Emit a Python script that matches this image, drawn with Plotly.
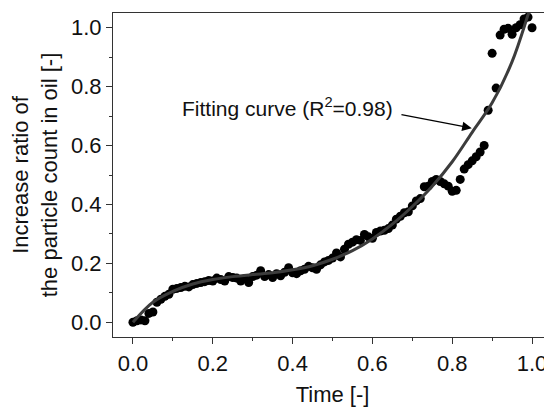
import plotly.graph_objects as go

time_x = [0.00, 0.01, 0.02, 0.03, 0.04, 0.05, 0.06, 0.07, 0.08, 0.09,
          0.10, 0.11, 0.12, 0.13, 0.14, 0.15, 0.16, 0.17, 0.18, 0.19,
          0.20, 0.21, 0.22, 0.23, 0.24, 0.25, 0.26, 0.27, 0.28, 0.29,
          0.30, 0.31, 0.32, 0.33, 0.34, 0.35, 0.36, 0.37, 0.38, 0.39,
          0.40, 0.41, 0.42, 0.43, 0.44, 0.45, 0.46, 0.47, 0.48, 0.49,
          0.50, 0.51, 0.52, 0.53, 0.54, 0.55, 0.56, 0.57, 0.58, 0.59,
          0.60, 0.61, 0.62, 0.63, 0.64, 0.65, 0.66, 0.67, 0.68, 0.69,
          0.70, 0.71, 0.72, 0.73, 0.74, 0.75, 0.76, 0.77, 0.78, 0.79,
          0.80, 0.81, 0.82, 0.83, 0.84, 0.85, 0.86, 0.87, 0.88, 0.89,
          0.90, 0.91, 0.92, 0.93, 0.94, 0.95, 0.96, 0.97, 0.98, 0.99, 1.00]
ratio_y = [0.000, 0.005, 0.008, 0.005, 0.030, 0.035, 0.068, 0.078, 0.088, 0.095,
           0.112, 0.115, 0.118, 0.122, 0.120, 0.128, 0.132, 0.135, 0.138, 0.142,
           0.140, 0.150, 0.145, 0.140, 0.155, 0.152, 0.150, 0.140, 0.148, 0.135,
           0.155, 0.160, 0.175, 0.155, 0.162, 0.152, 0.165, 0.158, 0.170, 0.185,
           0.168, 0.165, 0.175, 0.180, 0.190, 0.185, 0.180, 0.195, 0.205, 0.210,
           0.218, 0.235, 0.222, 0.248, 0.265, 0.272, 0.280, 0.278, 0.298, 0.290,
           0.285, 0.305, 0.310, 0.312, 0.318, 0.330, 0.350, 0.360, 0.372, 0.375,
           0.395, 0.412, 0.420, 0.460, 0.462, 0.478, 0.485, 0.478, 0.470, 0.462,
           0.445, 0.448, 0.485, 0.520, 0.535, 0.548, 0.562, 0.578, 0.600, 0.720,
           0.913, 0.795, 0.975, 0.995, 0.998, 0.978, 1.000, 1.010, 1.030, 1.036, 1.000]

# Fitting curve
fit_x = [0.00, 0.05, 0.10, 0.15, 0.20, 0.25, 0.30, 0.35, 0.40, 0.45, 0.50,
         0.55, 0.60, 0.65, 0.70, 0.75, 0.80, 0.85, 0.90, 0.95, 0.99, 1.01]
fit_y = [0.000, 0.068, 0.105, 0.130, 0.145, 0.155, 0.162, 0.168, 0.178, 0.192, 0.214,
         0.243, 0.283, 0.333, 0.393, 0.462, 0.545, 0.645, 0.745, 0.885, 1.044, 1.13]

tick_vals = [0.0, 0.2, 0.4, 0.6, 0.8, 1.0]
tick_text = ["0.0", "0.2", "0.4", "0.6", "0.8", "1.0"]

FONT = "Liberation Sans, Arial, sans-serif"

fig = go.Figure()
fig.add_trace(go.Scatter(x=time_x, y=ratio_y, mode="markers",
                         marker=dict(color="black", size=9), showlegend=False))
fig.add_trace(go.Scatter(x=fit_x, y=fit_y, mode="lines", line_shape="spline",
                         line=dict(color="#3c3c3c", width=3), showlegend=False))

axis_common = dict(
    showline=True, linecolor="#333333", linewidth=1.2,
    ticks="outside", ticklen=6, tickwidth=1, tickcolor="#333333",
    showgrid=False, zeroline=False, automargin=False,
    tickvals=tick_vals, ticktext=tick_text,
    tickfont=dict(family=FONT, size=22, color="#111111"),
    minor=dict(ticks="outside", ticklen=3, tickcolor="#333333", dtick=0.1, tick0=0, showgrid=False),
)

fig.update_xaxes(range=[-0.05, 1.05], mirror=True,
                 title=dict(text="Time [-]", font=dict(family=FONT, size=22, color="#111111"), standoff=12),
                 **axis_common)
fig.update_yaxes(range=[-0.05, 1.05],
                 title=dict(text="Increase ratio of<br>the particle count in oil [-]",
                            font=dict(family=FONT, size=22, color="#111111"), standoff=10),
                 **axis_common)

fig.add_annotation(x=0.849, y=0.659, ax=0.669, ay=0.706, axref="x", ayref="y",
                   xref="x", yref="y", text="", showarrow=True,
                   arrowhead=2, arrowsize=1.6, arrowwidth=1.2, arrowcolor="black")
fig.add_annotation(x=0.118, y=0.732, xref="x", yref="y", xanchor="left", yanchor="middle",
                   text="Fitting curve (R<sup>2</sup>=0.98)", showarrow=False,
                   font=dict(family="Liberation Sans Narrow, Arial Narrow, " + FONT, size=21, color="#111111"))

# The page body has an 8px default margin: size the figure so it fits the 552x410 window
fig.update_layout(width=544, height=402,
                  margin=dict(l=105, r=0, t=5, b=73),
                  paper_bgcolor="white", plot_bgcolor="white")

fig.write_html("out.html")
